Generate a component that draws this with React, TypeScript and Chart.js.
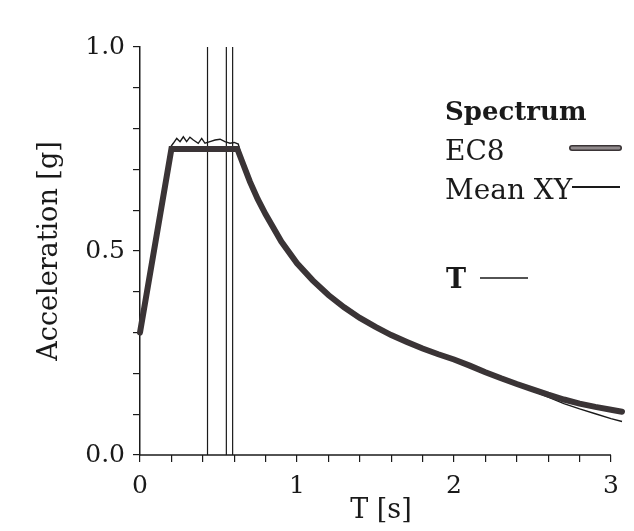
import React, { useEffect, useRef } from 'react';
import { Chart, registerables } from 'chart.js';

Chart.register(...registerables);

const FONT = "'DejaVu Serif', 'Liberation Serif', serif";

// EC8 design spectrum (period T [s], acceleration [g])
const ec8T = [0, 0.2, 0.62, 0.65, 0.7, 0.75, 0.8, 0.9, 1.0, 1.1, 1.2, 1.3, 1.4, 1.5, 1.6, 1.7, 1.8, 1.9, 2.0, 2.1, 2.2, 2.3, 2.4, 2.5, 2.6, 2.7, 2.8, 2.9, 3.0, 3.07];
const ec8A = [0.30, 0.75, 0.75, 0.72, 0.67, 0.627, 0.59, 0.523, 0.47, 0.428, 0.392, 0.362, 0.336, 0.314, 0.294, 0.277, 0.261, 0.247, 0.234, 0.219, 0.203, 0.188, 0.174, 0.161, 0.148, 0.136, 0.126, 0.118, 0.111, 0.106];

// Mean XY spectrum
const meanT = [0, 0.2, 0.212, 0.234, 0.255, 0.276, 0.297, 0.318, 0.34, 0.371, 0.393, 0.414, 0.446, 0.478, 0.51, 0.541, 0.573, 0.6, 0.626, 0.65, 0.7, 0.75, 0.8, 0.9, 1.0, 1.1, 1.2, 1.3, 1.4, 1.5, 1.6, 1.7, 1.8, 1.9, 2.0, 2.1, 2.2, 2.3, 2.4, 2.5, 2.6, 2.7, 2.8, 2.9, 3.0, 3.07];
const meanA = [0.30, 0.758, 0.764, 0.776, 0.768, 0.78, 0.768, 0.779, 0.772, 0.764, 0.776, 0.764, 0.768, 0.772, 0.774, 0.768, 0.764, 0.766, 0.762, 0.722, 0.668, 0.63, 0.592, 0.525, 0.47, 0.43, 0.39, 0.363, 0.335, 0.316, 0.299, 0.278, 0.26, 0.248, 0.237, 0.219, 0.202, 0.187, 0.172, 0.157, 0.142, 0.126, 0.113, 0.101, 0.089, 0.082];

// Periods marked with vertical lines
const periodLines = [0.43, 0.55, 0.59];

const xTickValues = [0, 0.2, 0.4, 0.6, 0.8, 1, 1.2, 1.4, 1.6, 1.8, 2, 2.2, 2.4, 2.6, 2.8, 3];
const xTickLabels = ['0', '1', '2', '3'];
const yTickLabels = ['0.0', '0.5', '1.0'];
const legendTitle = 'Spectrum';
const legendEntries = ['EC8', 'Mean XY'];
const periodLabel = 'T';
const xTitle = 'T [s]';
const yTitle = 'Acceleration [g]';

const INK = '#1a1a1a';
const EC8_EDGE = '#3a3436';
const EC8_FILL = '#908a8c';

const legendPlugin = {
  id: 'spectrumLegend',
  afterDraw(chart: any) {
    const ctx = chart.ctx as CanvasRenderingContext2D;
    ctx.save();
    ctx.fillStyle = INK;
    ctx.textAlign = 'left';
    ctx.textBaseline = 'alphabetic';
    ctx.font = `bold 26px ${FONT}`;
    ctx.fillText(legendTitle, 445, 120);
    ctx.font = `28px ${FONT}`;
    ctx.fillText(legendEntries[0], 445, 160);
    ctx.fillText(legendEntries[1], 445, 199);
    ctx.font = `bold 27px ${FONT}`;
    ctx.fillText(periodLabel, 446, 288);

    const seg = (x1: number, x2: number, y: number, w: number, c: string, cap: CanvasLineCap) => {
      ctx.beginPath();
      ctx.lineCap = cap;
      ctx.strokeStyle = c;
      ctx.lineWidth = w;
      ctx.moveTo(x1, y);
      ctx.lineTo(x2, y);
      ctx.stroke();
    };
    seg(572, 619, 148, 6, EC8_EDGE, 'round');
    seg(572, 619, 148, 2.8, EC8_FILL, 'round');
    seg(572, 620, 187, 2, INK, 'butt');
    seg(480, 528, 278, 1.5, INK, 'butt');
    ctx.restore();
  },
};

// x axis line drawn from T = 0 to T = 3 only (curves run slightly past it)
const xAxisLinePlugin = {
  id: 'xAxisLine',
  afterDatasetsDraw(chart: any) {
    const x = chart.scales.x;
    const y = chart.scales.y;
    const ctx = chart.ctx as CanvasRenderingContext2D;
    const py = y.getPixelForValue(0);
    ctx.save();
    ctx.strokeStyle = INK;
    ctx.lineWidth = 1.5;
    ctx.beginPath();
    ctx.moveTo(x.getPixelForValue(0), py);
    ctx.lineTo(x.getPixelForValue(xTickValues[xTickValues.length - 1]), py);
    ctx.stroke();
    ctx.restore();
  },
};

export default function App() {
  const ref = useRef<HTMLCanvasElement | null>(null);

  useEffect(() => {
    if (!ref.current) return;
    const ec8 = ec8T.map((t, i) => ({ x: t, y: ec8A[i] }));
    const mean = meanT.map((t, i) => ({ x: t, y: meanA[i] }));
    const vlines = periodLines.map((t) => ({
      label: 'T',
      data: [{ x: t, y: 0 }, { x: t, y: 1 }],
      borderColor: INK,
      borderWidth: 1.2,
      pointRadius: 0,
      tension: 0,
    }));

    const chart = new Chart(ref.current, {
      type: 'line',
      data: {
        datasets: [
          { label: 'EC8 edge', data: ec8, borderColor: EC8_EDGE, borderWidth: 6, pointRadius: 0, tension: 0, clip: false, borderJoinStyle: 'miter', borderCapStyle: 'round' } as any,
          { label: 'EC8', data: ec8, borderColor: EC8_FILL, borderWidth: 2.8, pointRadius: 0, tension: 0, clip: false, borderJoinStyle: 'miter', borderCapStyle: 'round' } as any,
          { label: 'Mean XY', data: mean, borderColor: INK, borderWidth: 1.4, pointRadius: 0, tension: 0, clip: false } as any,
          ...vlines,
        ],
      },
      options: {
        animation: false,
        responsive: true,
        maintainAspectRatio: false,
        layout: { padding: { top: 47, right: 12, left: 0, bottom: 0 } },
        plugins: { legend: { display: false }, tooltip: { enabled: false } },
        scales: {
          x: {
            type: 'linear',
            min: 0,
            max: 3.07,
            afterFit: (s: any) => { s.height = 76; },
            afterBuildTicks: (s: any) => { s.ticks = xTickValues.map((v) => ({ value: v })); },
            border: { display: false },
            grid: { drawOnChartArea: false, drawTicks: true, tickLength: 7, color: INK, lineWidth: 1.2 },
            ticks: {
              autoSkip: false,
              maxRotation: 0,
              padding: 9,
              color: INK,
              font: { family: FONT, size: 25 },
              callback: (v: any) => {
                const n = Number(v);
                const r = Math.round(n);
                return Math.abs(n - r) < 1e-6 ? xTickLabels[r] ?? '' : '';
              },
            },
            title: { display: true, text: xTitle, color: INK, font: { family: FONT, size: 27 }, padding: { top: 0, bottom: 4 } },
          },
          y: {
            type: 'linear',
            min: 0,
            max: 1,
            afterFit: (s: any) => { s.width = 140; },
            border: { display: true, color: INK, width: 1.5 },
            grid: { drawOnChartArea: false, drawTicks: true, tickLength: 7, color: INK, lineWidth: 1.2 },
            ticks: {
              stepSize: 0.1,
              autoSkip: false,
              padding: 8,
              color: INK,
              font: { family: FONT, size: 25 },
              callback: (v: any) => {
                const n = Number(v) * 2;
                const r = Math.round(n);
                return Math.abs(n - r) < 1e-6 ? yTickLabels[r] ?? '' : '';
              },
            },
            title: { display: true, text: yTitle, color: INK, font: { family: FONT, size: 27 }, padding: { top: 34, bottom: 0 } },
          },
        },
      } as any,
      plugins: [legendPlugin, xAxisLinePlugin],
    });
    return () => chart.destroy();
  }, []);

  return (
    <div style={{ position: 'fixed', left: 0, top: 0, width: 634, height: 531, background: '#fff' }}>
      <canvas ref={ref} />
    </div>
  );
}
